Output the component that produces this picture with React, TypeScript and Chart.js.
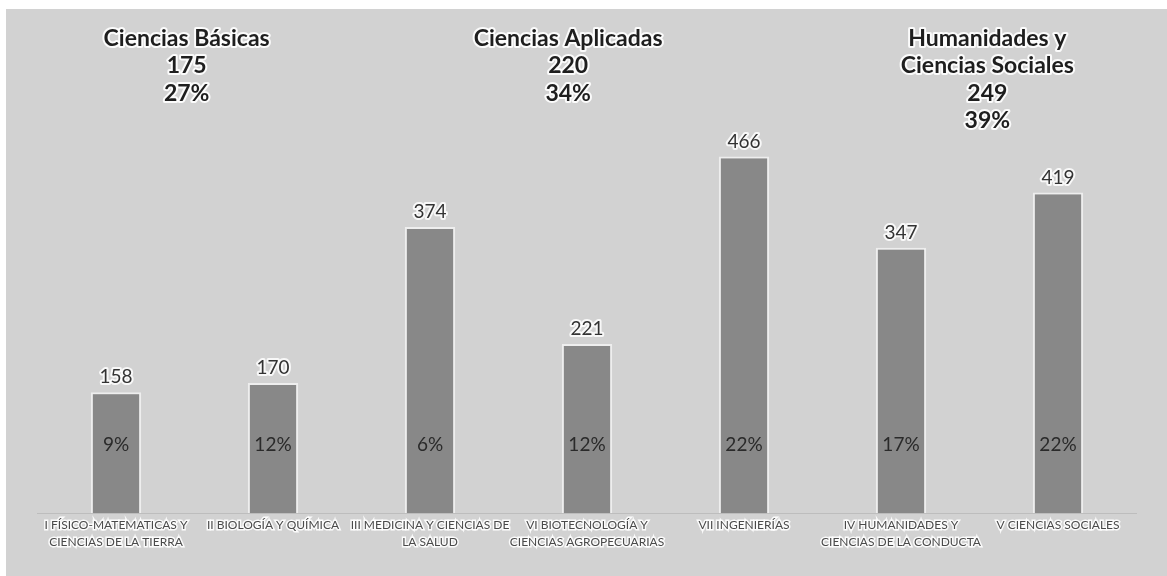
import React, { useEffect, useRef } from "react";
import { Chart, registerables } from "chart.js";

Chart.register(...registerables);

const categories: string[][] = [
  ["I FÍSICO-MATEMATICAS Y", "CIENCIAS DE LA TIERRA"],
  ["II BIOLOGÍA Y QUÍMICA"],
  ["III MEDICINA Y CIENCIAS DE", "LA SALUD"],
  ["VI BIOTECNOLOGÍA Y", "CIENCIAS AGROPECUARIAS"],
  ["VII INGENIERÍAS"],
  ["IV HUMANIDADES Y", "CIENCIAS DE LA CONDUCTA"],
  ["V CIENCIAS SOCIALES"],
];
const values: number[] = [158, 170, 374, 221, 466, 347, 419];
const percentLabels: string[] = ["9%", "12%", "6%", "12%", "22%", "17%", "22%"];
const groupTitles: string[][] = [
  ["Ciencias Básicas", "175", "27%"],
  ["Ciencias Aplicadas", "220", "34%"],
  ["Humanidades y", "Ciencias Sociales", "249", "39%"],
];
// group header anchors, expressed as (fractional) category indices
const groupAnchors: number[] = [0.45, 2.88, 5.55];
const yMax = 600;

const FONT = "Lato, 'Open Sans', sans-serif";

const labelPlugin = {
  id: "customLabels",
  afterDatasetsDraw(chart: any) {
    const { ctx, scales } = chart;
    const x = scales.x;
    const y = scales.y;
    const meta = chart.getDatasetMeta(0);
    ctx.save();
    ctx.textAlign = "center";
    ctx.textBaseline = "middle";
    ctx.lineJoin = "round";
    meta.data.forEach((bar: any, i: number) => {
      ctx.font = `19px ${FONT}`;
      ctx.lineWidth = 4;
      ctx.strokeStyle = "rgba(255,255,255,0.85)";
      ctx.fillStyle = "#333333";
      const ty = bar.y - 15;
      ctx.strokeText(String(values[i]), bar.x, ty);
      ctx.fillText(String(values[i]), bar.x, ty);
      const py = y.getPixelForValue(0) - 68;
      ctx.fillStyle = "#2a2a2a";
      ctx.fillText(percentLabels[i], bar.x, py);
    });
    ctx.font = `bold 23px ${FONT}`;
    groupTitles.forEach((lines, g) => {
      const cx = x.getPixelForValue(groupAnchors[g]);
      lines.forEach((line, li) => {
        const ly = 29.5 + li * 27.3;
        ctx.lineWidth = 4;
        ctx.strokeStyle = "rgba(255,255,255,0.9)";
        ctx.strokeText(line, cx, ly);
        ctx.fillStyle = "#1e1e1e";
        ctx.fillText(line, cx, ly);
      });
    });
    ctx.restore();
  },
};

export default function App() {
  const ref = useRef<HTMLCanvasElement | null>(null);
  useEffect(() => {
    if (!ref.current) return;
    const chart = new Chart(ref.current, {
      type: "bar",
      data: {
        labels: categories,
        datasets: [
          {
            data: values,
            backgroundColor: "#888888",
            borderColor: "#eeeeee",
            borderWidth: 2,
            barPercentage: 0.32,
            categoryPercentage: 1,
          },
        ],
      },
      options: {
        animation: false,
        responsive: false,
        maintainAspectRatio: false,
        layout: { padding: { left: 31.5, right: 30.5, top: 45, bottom: 22 } },
        plugins: {
          legend: { display: false },
          tooltip: { enabled: false },
        },
        scales: {
          x: {
            grid: { display: false, drawTicks: false },
            border: { display: true, color: "#bdbdbd", width: 1 },
            ticks: {
              autoSkip: false,
              maxRotation: 0,
              minRotation: 0,
              padding: 3,
              color: "#4a4a4a",
              font: { family: FONT, size: 12, lineHeight: 1.45 },
              textStrokeColor: "rgba(255,255,255,0.9)",
              textStrokeWidth: 3,
            },
          },
          y: {
            display: false,
            min: 0,
            max: yMax,
          },
        },
      },
      plugins: [labelPlugin],
    });
    return () => chart.destroy();
  }, []);
  return (
    <div style={{ position: "fixed", left: 0, top: 0, width: 1167, height: 576, background: "#ffffff" }}>
      <canvas
        ref={ref}
        width={1161}
        height={567}
        style={{ position: "absolute", left: 6, top: 9, width: 1161, height: 567, background: "#d2d2d2" }}
      />
    </div>
  );
}
